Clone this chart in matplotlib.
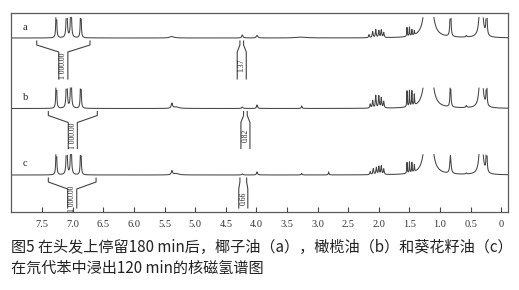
import numpy as np
import matplotlib
matplotlib.use("Agg")
import matplotlib.pyplot as plt

# Toluene-d8 residual peaks, shared by all three spectra (ppm, height px, half width ppm)
TOL_PPM = [7.27, 7.10, 7.03, 6.87]
TOL_H = [50, 50, 50, 50]
TOL_W = [0.006, 0.008, 0.008, 0.006]

# a - coconut oil
A_PPM = [5.38, 4.23, 3.99, 3.27, 2.16, 2.10, 2.05, 2.00, 1.96, 1.92,
         1.54, 1.50, 1.46, 1.42, 1.19, 0.83, 0.57, 0.33, 0.24]
A_H = [1.5, 3, 2.5, 0.8, 3, 6, 8, 7, 7.5, 5,
       9, 9, 6, 4, 200, 40, 1.5, 80, 60]
A_W = [0.04, 0.012, 0.015, 0.1, 0.008, 0.008, 0.008, 0.008, 0.008, 0.008,
       0.005, 0.005, 0.005, 0.005, 0.03, 0.008, 0.01, 0.02, 0.006]

# b - olive oil
B_PPM = [5.38, 5.31, 4.23, 3.99, 3.26, 2.14, 2.10, 2.05, 2.00, 1.96, 1.92,
         1.54, 1.50, 1.46, 1.42, 1.19, 0.83, 0.57, 0.33, 0.24]
B_H = [5, 1.5, 1.5, 3.5, 2.5, 4, 7.5, 12.5, 12, 10, 6.5,
       16, 16, 15, 11, 200, 28, 2, 80, 40]
B_W = [0.012, 0.05, 0.012, 0.01, 0.008, 0.008, 0.008, 0.008, 0.008, 0.008, 0.008,
       0.005, 0.005, 0.005, 0.005, 0.03, 0.008, 0.01, 0.02, 0.006]

# c - sunflower seed oil
C_PPM = [5.38, 5.31, 4.23, 3.99, 3.26, 2.82, 2.14, 2.09, 2.04, 2.00, 1.96, 1.92,
         1.54, 1.50, 1.46, 1.42, 1.19, 0.83, 0.57, 0.33, 0.24]
C_H = [4, 1.5, 1, 3, 1.5, 3, 3, 6, 7, 8, 8.5, 5.5,
       11, 11, 10, 7, 200, 18, 1, 80, 50]
C_W = [0.012, 0.05, 0.012, 0.01, 0.008, 0.006, 0.008, 0.008, 0.008, 0.008, 0.008, 0.008,
       0.005, 0.005, 0.005, 0.005, 0.03, 0.012, 0.01, 0.02, 0.006]

# integrals: range start, range end, value
A_INT_FROM = [7.59, 4.27]
A_INT_TO = [6.72, 4.21]
A_INT_VAL = ["1 000.00", "1.37"]
B_INT_FROM = [7.40, 4.21]
B_INT_TO = [6.60, 4.15]
B_INT_VAL = ["1 000.00", "0.82"]
C_INT_FROM = [7.40, 4.27]
C_INT_TO = [6.62, 4.16]
C_INT_VAL = ["1 000.00", "0.66"]

TICKS = [7.5, 7.0, 6.5, 6.0, 5.5, 5.0, 4.5, 4.0, 3.5, 3.0, 2.5, 2.0, 1.5, 1.0, 0.5, 0.0]
TICK_LABELS = ["7.5", "7.0", "6.5", "6.0", "5.5", "5.0", "4.5", "4.0",
               "3.5", "3.0", "2.5", "2.0", "1.5", "1.0", "0.5", "0"]

CAPTION = ["图5 在头发上停留180 min后，椰子油（a），橄榄油（b）和葵花籽油（c）",
           "在氘代苯中浸出120 min的核磁氢谱图"]

LINE_COLOR = "#444444"
SERIF = "Liberation Serif"
CLIP = 20.5  # spectrum height (px) where the plotted peaks are cut off


def spectrum(x, centers, heights, widths):
    """Sum of Lorentzian lines."""
    y = np.zeros_like(x)
    for c, h, w in zip(centers, heights, widths):
        y += h / (1 + ((x - c) / w) ** 2)
    return y


def draw_integral(ax, x_from, x_to, base, label, length):
    """Integral bracket under the baseline with a vertical value label."""
    top, bend, spread, bottom = base - 3, base - 7, base - 14, base - length
    center = (x_from + x_to) / 2
    half = 0.074
    for end, side in ((x_from, center + half), (x_to, center - half)):
        ax.plot([end, end, side, side], [top, bend, spread, bottom],
                color=LINE_COLOR, lw=0.8)
    ax.text(center, (spread + bottom) / 2, label, rotation=90, ha="center", va="center",
            fontsize=5.5, family=SERIF, color="#222222")


x = np.linspace(-0.11, 8.01, 9000)
tol = spectrum(x, TOL_PPM, TOL_H, TOL_W)

fig = plt.figure(figsize=(5.19, 2.90), dpi=100)
ax = fig.add_axes([11 / 519, 78 / 290, 497 / 519, 199 / 290])
ax.set_xlim(8.01, -0.11)
ax.set_ylim(0, 199)

rows = [
    ("a", 174, A_PPM, A_H, A_W, A_INT_FROM, A_INT_TO, A_INT_VAL, 41),
    ("b", 103.5, B_PPM, B_H, B_W, B_INT_FROM, B_INT_TO, B_INT_VAL, 40),
    ("c", 37, C_PPM, C_H, C_W, C_INT_FROM, C_INT_TO, C_INT_VAL, 33),
]
for name, base, ppm, h, w, i_from, i_to, i_val, length in rows:
    y = tol + spectrum(x, ppm, h, w)
    y = np.where(y > CLIP, np.nan, y)
    ax.plot(x, base + y, color=LINE_COLOR, lw=0.75)
    ax.text(7.78, base + 11, name, ha="center", va="center", fontsize=7.5,
            family=SERIF, color="#222222")
    for f, t, v in zip(i_from, i_to, i_val):
        draw_integral(ax, f, t, base, v, length)

ax.set_xticks(TICKS)
ax.set_xticklabels(TICK_LABELS, family=SERIF, fontsize=7.5, color="#333333")
ax.set_yticks([])
ax.tick_params(axis="x", direction="in", length=3.5, width=0.8, color=LINE_COLOR, pad=6)
for s in ax.spines.values():
    s.set_color("#5a5a5a")
    s.set_linewidth(0.9)

fig.text(11 / 519, 1 - 247 / 290, CAPTION[0], va="center", fontsize=10.9,
         family=["Noto Sans CJK SC", "DejaVu Sans"], color="#222222")
fig.text(11 / 519, 1 - 268 / 290, CAPTION[1], va="center", fontsize=10.9,
         family=["Noto Sans CJK SC", "DejaVu Sans"], color="#222222")

fig.savefig("out.png", dpi=100)
